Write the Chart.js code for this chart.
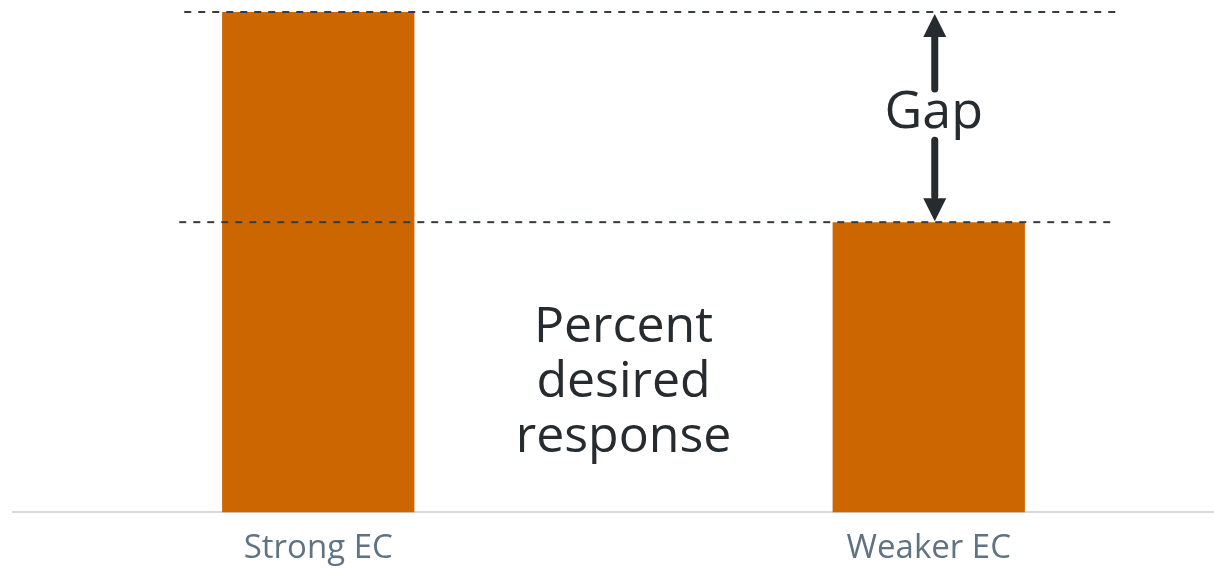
<!DOCTYPE html>
<html>
<head>
<meta charset="utf-8">
<title>Percent desired response</title>
<script src="https://cdn.jsdelivr.net/npm/chart.js@4/dist/chart.umd.min.js"></script>
<style>
  html, body { margin: 0; padding: 0; background: #ffffff; overflow: hidden; }
  #wrap { width: 1214px; height: 572px; overflow: hidden; }
  canvas { display: block; }
</style>
</head>
<body>
<div id="wrap"><canvas id="chart" width="1234" height="584"></canvas></div>
<script>
// Categories and values
const categories = ['Strong EC', 'Weaker EC'];
const responseValues = [100, 58];
const yRange = [0, 100];
const gapLabel = 'Gap';
const centerLabel = ['Percent', 'desired', 'response'];

const FONT = '"Open Sans", "Noto Sans", sans-serif';
const INK = '#262b30';

// Draws the dashed reference lines, the gap arrows and the captions
const gapAnnotation = {
  id: 'gapAnnotation',
  afterDatasetsDraw(chart) {
    const { ctx, scales: { x, y }, chartArea } = chart;
    const xA = x.getPixelForValue(0);
    const xB = x.getPixelForValue(1);
    const yHigh = y.getPixelForValue(responseValues[0]);
    const yLow = y.getPixelForValue(responseValues[1]);

    ctx.save();
    // dashed level lines
    ctx.strokeStyle = '#363b41';
    ctx.lineWidth = 2;
    ctx.setLineDash([7, 7]);
    ctx.beginPath();
    ctx.moveTo(xA - 134, yHigh);
    ctx.lineTo(xB + 187, yHigh);
    ctx.stroke();
    ctx.beginPath();
    ctx.moveTo(xA - 139, yLow);
    ctx.lineTo(xB + 182, yLow);
    ctx.stroke();
    ctx.setLineDash([]);

    // gap arrows
    const ax = xB + 6;
    ctx.strokeStyle = INK;
    ctx.fillStyle = INK;
    ctx.lineWidth = 7;
    ctx.lineCap = 'round';
    ctx.beginPath();
    ctx.moveTo(ax, yHigh + 22);
    ctx.lineTo(ax, yHigh + 77);
    ctx.stroke();
    ctx.beginPath();
    ctx.moveTo(ax, yHigh + 2);
    ctx.lineTo(ax - 11.5, yHigh + 25);
    ctx.lineTo(ax + 11.5, yHigh + 25);
    ctx.closePath();
    ctx.fill();

    ctx.beginPath();
    ctx.moveTo(ax, yLow - 82);
    ctx.lineTo(ax, yLow - 26);
    ctx.stroke();
    ctx.beginPath();
    ctx.moveTo(ax, yLow - 1);
    ctx.lineTo(ax - 11.5, yLow - 24);
    ctx.lineTo(ax + 11.5, yLow - 24);
    ctx.closePath();
    ctx.fill();

    // captions
    ctx.textAlign = 'center';
    ctx.textBaseline = 'alphabetic';
    ctx.font = '52px ' + FONT;
    ctx.fillText(gapLabel, ax - 1, yHigh + 116);

    ctx.font = '50px ' + FONT;
    const cx = (xA + xB) / 2;
    centerLabel.forEach((line, i) => {
      ctx.fillText(line, cx, chartArea.bottom - 170 + i * 55);
    });
    ctx.restore();
  }
};

new Chart(document.getElementById('chart'), {
  type: 'bar',
  data: {
    labels: categories,
    datasets: [{
      data: responseValues,
      backgroundColor: '#cc6600',
      borderWidth: 0,
      categoryPercentage: 1,
      barPercentage: 0.315
    }]
  },
  options: {
    responsive: false,
    devicePixelRatio: 1,
    animation: false,
    layout: { padding: { left: 13, right: 0, top: 12, bottom: 0 } },
    plugins: {
      legend: { display: false },
      tooltip: { enabled: false },
      title: { display: false }
    },
    scales: {
      x: {
        grid: { display: false, drawTicks: false },
        border: { display: true, color: '#d9d9d9', width: 2 },
        ticks: {
          color: '#5f7382',
          padding: 16,
          font: { family: FONT, size: 33 }
        }
      },
      y: {
        display: false,
        min: yRange[0],
        max: yRange[1]
      }
    }
  },
  plugins: [gapAnnotation]
});
</script>
</body>
</html>
